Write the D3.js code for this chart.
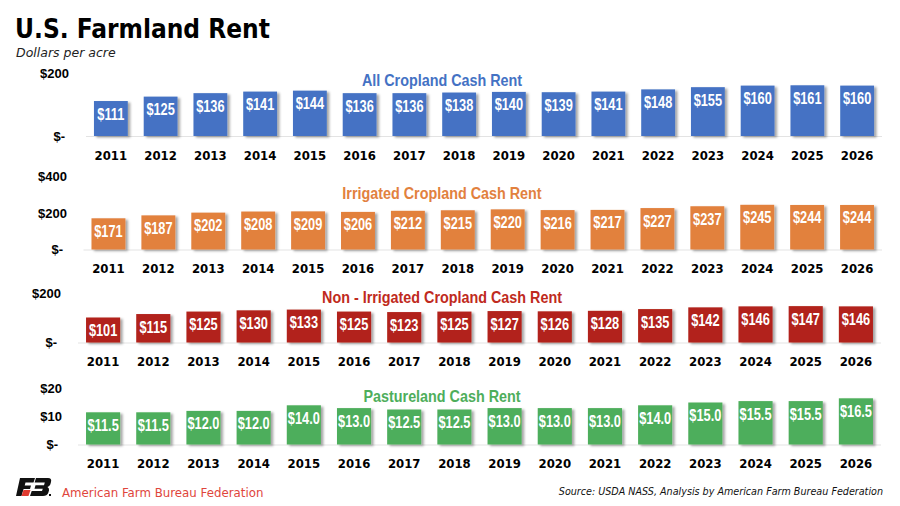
<!DOCTYPE html>
<html><head><meta charset="utf-8">
<script src="https://cdn.jsdelivr.net/npm/d3@7"></script>
<style>
html,body{margin:0;padding:0;background:#fff;}
svg{display:block;}
</style></head>
<body>
<svg id="chart" width="900" height="506"></svg>
<script>
const years = ["2011","2012","2013","2014","2015","2016","2017","2018","2019","2020","2021","2022","2023","2024","2025","2026"];
const allCropland = [111,125,136,141,144,136,136,138,140,139,141,148,155,160,161,160];
const irrigated = [171,187,202,208,209,206,212,215,220,216,217,227,237,245,244,244];
const nonIrrigated = [101,115,125,130,133,125,123,125,127,126,128,135,142,146,147,146];
const pasture = [11.5,11.5,12.0,12.0,14.0,13.0,12.5,12.5,13.0,13.0,13.0,14.0,15.0,15.5,15.5,16.5];
const ticksAll = [0,200];
const ticksIrr = [0,200,400];
const ticksNon = [0,200];
const ticksPasture = [0,10,20];
const panelTitles = ["All Cropland Cash Rent","Irrigated Cropland Cash Rent","Non - Irrigated Cropland Cash Rent","Pastureland Cash Rent"];

const panels = [
  {title:panelTitles[0], values:allCropland, ticks:ticksAll, top:200, color:"#4472C4", titleColor:"#4472C4",
   x0:86, x1:882, base:136, topY:73, yearY:154.5, titleBase:85.7, axisX:69, dec:0},
  {title:panelTitles[1], values:irrigated, ticks:ticksIrr, top:400, color:"#E2813E", titleColor:"#E2813E",
   x0:83.5, x1:882, base:249.5, topY:176.5, yearY:268, titleBase:199.3, axisX:67, dec:0},
  {title:panelTitles[2], values:nonIrrigated, ticks:ticksNon, top:200, color:"#B2241B", titleColor:"#BF2A20",
   x0:78, x1:881, base:342.5, topY:293, yearY:361, titleBase:302.7, axisX:61, dec:0},
  {title:panelTitles[3], values:pasture, ticks:ticksPasture, top:20, color:"#4EAE5B", titleColor:"#4EAE5B",
   x0:78, x1:881, base:444.5, topY:388.5, yearY:462.7, titleBase:402.3, axisX:62, dec:1}
];

const svg = d3.select("#chart");
const defs = svg.append("defs");
const f = defs.append("filter").attr("id","shadow").attr("x","-20%").attr("y","-20%").attr("width","150%").attr("height","150%");
f.append("feDropShadow").attr("dx",2.5).attr("dy",1.5).attr("stdDeviation",1.3).attr("flood-color","#000").attr("flood-opacity",0.35);

const narrow = 0.8;       // horizontal squeeze for bar value labels (narrow bold face)
const titleNarrow = 0.87; // horizontal squeeze for panel titles
const condFont = "'Liberation Sans',Arial,sans-serif";
const verdCond = "'DejaVu Sans Condensed','DejaVu Sans',sans-serif";

// Title
svg.append("text").attr("x",15).attr("y",38).text("U.S. Farmland Rent")
  .style("font-family",verdCond).style("font-stretch","condensed").style("font-weight","bold").style("font-size","26px").attr("fill","#000");
svg.append("text").attr("x",16).attr("y",56.5).text("Dollars per acre")
  .style("font-family","'DejaVu Sans',sans-serif").style("font-style","italic").style("font-size","12.5px").attr("fill","#222");

panels.forEach(p => {
  const g = svg.append("g");
  const x = d3.scaleBand().domain(years).range([p.x0,p.x1]).paddingInner(0.32).paddingOuter(0.16);
  const y = d3.scaleLinear().domain([0,p.top]).range([p.base,p.topY]);

  // baseline
  g.append("line").attr("x1",p.x0).attr("x2",p.x1).attr("y1",p.base+0.5).attr("y2",p.base+0.5)
    .attr("stroke","#e3e3e3").attr("stroke-width",1.2);

  // axis
  const axis = d3.axisLeft(y).tickValues(p.ticks).tickSize(0).tickPadding(0)
    .tickFormat(v => v===0 ? "$-" : "$"+v);
  const ag = g.append("g").attr("transform",`translate(${p.axisX},0)`).call(axis);
  ag.select(".domain").remove();
  ag.selectAll("text").attr("fill","#000")
    .style("font-family","'Liberation Sans',Arial,sans-serif").style("font-weight","bold").style("font-size","13px")
    .attr("dx", v => v===0 ? -4 : 0);

  // bars
  g.selectAll("rect.bar").data(p.values).join("rect").attr("class","bar")
    .attr("x",(d,i)=>x(years[i])).attr("width",x.bandwidth())
    .attr("y",d=>y(d)).attr("height",d=>p.base - y(d))
    .attr("fill",p.color).attr("filter","url(#shadow)");

  // value labels
  g.selectAll("text.val").data(p.values).join("text").attr("class","val")
    .attr("transform",(d,i)=>`translate(${x(years[i])+x.bandwidth()/2},${y(d)+18.5}) scale(${narrow},1)`)
    .attr("text-anchor","middle").attr("fill","#fff")
    .style("font-family",condFont).style("font-weight","bold").style("font-size","16px")
    .text(d=>"$"+d.toFixed(p.dec));

  // year labels
  g.selectAll("text.yr").data(years).join("text").attr("class","yr")
    .attr("x",d=>x(d)+x.bandwidth()/2).attr("y",p.yearY+5)
    .attr("text-anchor","middle").attr("fill","#000")
    .style("font-family",verdCond).style("font-stretch","condensed").style("font-weight","bold").style("font-size","13px")
    .text(d=>d);

  // panel title
  g.append("text").attr("transform",`translate(442,${p.titleBase}) scale(${titleNarrow},1)`).attr("text-anchor","middle")
    .attr("fill",p.titleColor)
    .style("font-family",condFont).style("font-weight","bold").style("font-size","16.5px")
    .text(p.title);
});

// Logo
const logo = svg.append("g").attr("transform","translate(16,478)");
logo.append("path").attr("d","M4,0 L19,0 L17.5,4.5 L9.5,4.5 L8.7,7.5 L15,7.5 L14,11 L7.6,11 L5.5,18 L0,18 Z").attr("fill","#111");
logo.append("path").attr("d","M7.5,12 L14.5,12 L12.5,18 L5.5,18 Z").attr("fill","#E03A2F");
logo.append("path").attr("d","M20,0 L32,0 Q36,0 35,4 L34.3,6.5 Q33.5,8.3 31.5,9 Q33.5,10 33,12.5 L32.2,15 Q31,18 27,18 L14,18 L15.7,13 L26,13 L26.8,10.8 L18.5,10.8 L19.5,7.3 L28,7.3 L28.8,4.5 L18.6,4.5 Z").attr("fill","#111");
logo.append("rect").attr("x",33).attr("y",16).attr("width",2).attr("height",2).attr("fill","#111");
svg.append("text").attr("x",62).attr("y",496.5).text("American Farm Bureau Federation")
  .style("font-family","'DejaVu Sans',sans-serif").style("font-size","11.8px").attr("fill","#E0453B");
svg.append("text").attr("x",883).attr("y",494.5).attr("text-anchor","end")
  .text("Source: USDA NASS, Analysis by American Farm Bureau Federation")
  .style("font-family","'DejaVu Sans',sans-serif").style("font-style","italic").style("font-size","9.6px").attr("fill","#111");
</script>
</body></html>
